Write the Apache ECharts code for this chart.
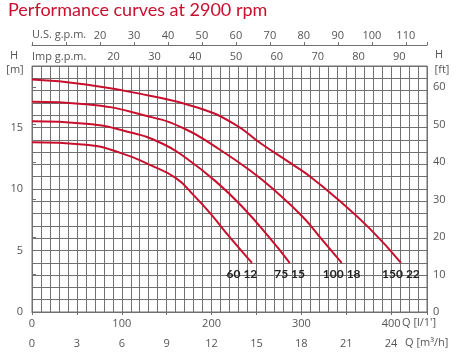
<!DOCTYPE html>
<html>
<head>
<meta charset="utf-8">
<script src="https://cdn.jsdelivr.net/npm/echarts@6/dist/echarts.min.js"></script>
<style>
html,body{margin:0;padding:0;background:#fff;}
#c{width:459px;height:362px;}
</style>
</head>
<body>
<div id="c"></div>
<script>
// ---- data (flow Q in l/min, head H in m) ----
const curveNames = ['150 22', '100 18', '75 15', '60 12'];
const q150_22 = [0, 60, 130, 185, 225, 255, 290, 310, 340, 376, 411];
const h150_22 = [18.9, 18.5, 17.6, 16.6, 15.3, 13.7, 12.0, 11.0, 9.2, 6.8, 4.0];
const q100_18 = [0, 60, 130, 170, 205, 243, 270, 302, 324, 345];
const h100_18 = [17.1, 16.9, 15.9, 14.9, 13.4, 11.5, 9.9, 7.7, 5.8, 4.0];
const q75_15 = [0, 60, 110, 145, 170, 205, 235, 265, 287];
const h75_15 = [15.5, 15.3, 14.6, 13.7, 12.6, 10.6, 8.5, 6.0, 4.0];
const q60_12 = [0, 60, 100, 130, 160, 180, 200, 220, 245];
const h60_12 = [13.8, 13.6, 12.9, 12.0, 10.9, 9.5, 7.9, 6.1, 4.0];

const qMax = 440;      // l/min
const hMax = 20;       // m
const lpmTicks = [0, 100, 200, 300, 400];
const m3hTicks = [0, 3, 6, 9, 12, 15, 18, 21, 24];
const usTicks = [20, 30, 40, 50, 60, 70, 80, 90, 100, 110];
const impTicks = [20, 30, 40, 50, 60, 70, 80, 90];
const mTicks = [0, 5, 10, 15];
const ftTicks = [0, 10, 20, 30, 40, 50, 60];

const curves = [[q150_22, h150_22], [q100_18, h100_18], [q75_15, h75_15], [q60_12, h60_12]];
const labelShift = [0, 0, 0, -10];

const red = '#c8102e';
const txt = '#555';
const gridCol = '#707070';
const FF = 'Open Sans';

function lab(list) { return v => list.some(t => Math.abs(t - v) < 1e-6) ? String(v) : ''; }

const series = curves.map((c, i) => ({
  type: 'line',
  xAxisIndex: 0, yAxisIndex: 0,
  smooth: true,
  symbol: 'circle', symbolSize: 0, showSymbol: true,
  lineStyle: { color: red, width: 2 },
  itemStyle: { color: red },
  z: 5,
  data: c[0].map((q, j) => j === c[0].length - 1
    ? { value: [q, c[1][j]], label: { show: true, position: 'bottom', distance: 5, offset: [labelShift[i], 0],
        formatter: curveNames[i], fontFamily: 'Lato', fontWeight: 'bold', fontSize: 12, color: '#222' } }
    : [q, c[1][j]])
}));

const chart = echarts.init(document.getElementById('c'), null, { renderer: 'canvas' });
chart.setOption({
  animation: false,
  backgroundColor: '#fff',
  grid: { left: 32, right: 32, top: 66, bottom: 50, containLabel: false, outerBoundsMode: 'none',
          show: true, borderColor: gridCol, borderWidth: 1 },
  xAxis: [
    { type: 'value', position: 'bottom', min: 0, max: qMax, interval: 10,
      axisLine: { show: false }, axisTick: { show: false },
      splitLine: { show: true, lineStyle: { color: gridCol, width: 1 } },
      axisLabel: { formatter: lab(lpmTicks), color: txt, fontSize: 11, fontFamily: FF, margin: 6 } },
    { type: 'value', position: 'bottom', offset: 20, min: 0, max: qMax * 0.06, interval: 3,
      axisLine: { show: true, lineStyle: { color: gridCol } },
      axisTick: { show: true, length: 3, lineStyle: { color: gridCol } },
      splitLine: { show: false },
      axisLabel: { formatter: lab(m3hTicks), color: txt, fontSize: 11, fontFamily: FF, margin: 6 } },
    { type: 'value', position: 'top', offset: 21, min: 0, max: qMax / 3.78541, interval: 10,
      axisLine: { show: true, lineStyle: { color: gridCol } },
      axisTick: { show: true, length: 3, lineStyle: { color: gridCol } },
      splitLine: { show: false },
      axisLabel: { formatter: lab(usTicks), color: txt, fontSize: 11, fontFamily: FF, margin: 4 } },
    { type: 'value', position: 'top', offset: 0, min: 0, max: qMax / 4.54609, interval: 10,
      axisLine: { show: false }, axisTick: { show: false },
      splitLine: { show: false },
      axisLabel: { formatter: lab(impTicks), color: txt, fontSize: 11, fontFamily: FF, margin: 4 } }
  ],
  yAxis: [
    { type: 'value', position: 'left', min: 0, max: hMax, interval: 1,
      axisLine: { show: false }, axisTick: { show: false },
      splitLine: { show: true, lineStyle: { color: gridCol, width: 1 } },
      axisLabel: { formatter: lab(mTicks), color: txt, fontSize: 11, fontFamily: FF, margin: 9 } },
    { type: 'value', position: 'right', min: 0, max: hMax / 0.3048, interval: 10,
      axisLine: { show: false },
      axisTick: { show: true, length: 4, lineStyle: { color: gridCol } },
      splitLine: { show: false },
      axisLabel: { formatter: lab(ftTicks), color: txt, fontSize: 11, fontFamily: FF, margin: 6 } }
  ],
  graphic: [
    { type: 'text', left: 8, top: 1, style: { text: 'Performance curves at 2900 rpm', fill: red, fontSize: 18, fontFamily: 'Lato' } },
    { type: 'text', x: 32, y: 35, style: { text: 'U.S. g.p.m.', fill: txt, fontSize: 11, fontFamily: FF, verticalAlign: 'middle' } },
    { type: 'text', x: 32, y: 57, style: { text: 'Imp g.p.m.', fill: txt, fontSize: 11, fontFamily: FF, verticalAlign: 'middle' } },
    { type: 'text', x: 14, y: 56, style: { text: 'H', fill: txt, fontSize: 11, fontFamily: FF, align: 'center', verticalAlign: 'middle' } },
    { type: 'text', x: 15, y: 70, style: { text: '[m]', fill: txt, fontSize: 11, fontFamily: FF, align: 'center', verticalAlign: 'middle' } },
    { type: 'text', x: 439, y: 55, style: { text: 'H', fill: txt, fontSize: 11, fontFamily: FF, align: 'center', verticalAlign: 'middle' } },
    { type: 'text', x: 442, y: 70, style: { text: '[ft]', fill: txt, fontSize: 11, fontFamily: FF, align: 'center', verticalAlign: 'middle' } },
    { type: 'text', x: 402, y: 323, style: { text: "Q [l/1']", fill: txt, fontSize: 11, fontFamily: FF, verticalAlign: 'middle' } },
    { type: 'text', x: 405, y: 343, style: { text: 'Q [m³/h]', fill: txt, fontSize: 11, fontFamily: FF, verticalAlign: 'middle' } }
  ],
  series: series
});
</script>
</body>
</html>
